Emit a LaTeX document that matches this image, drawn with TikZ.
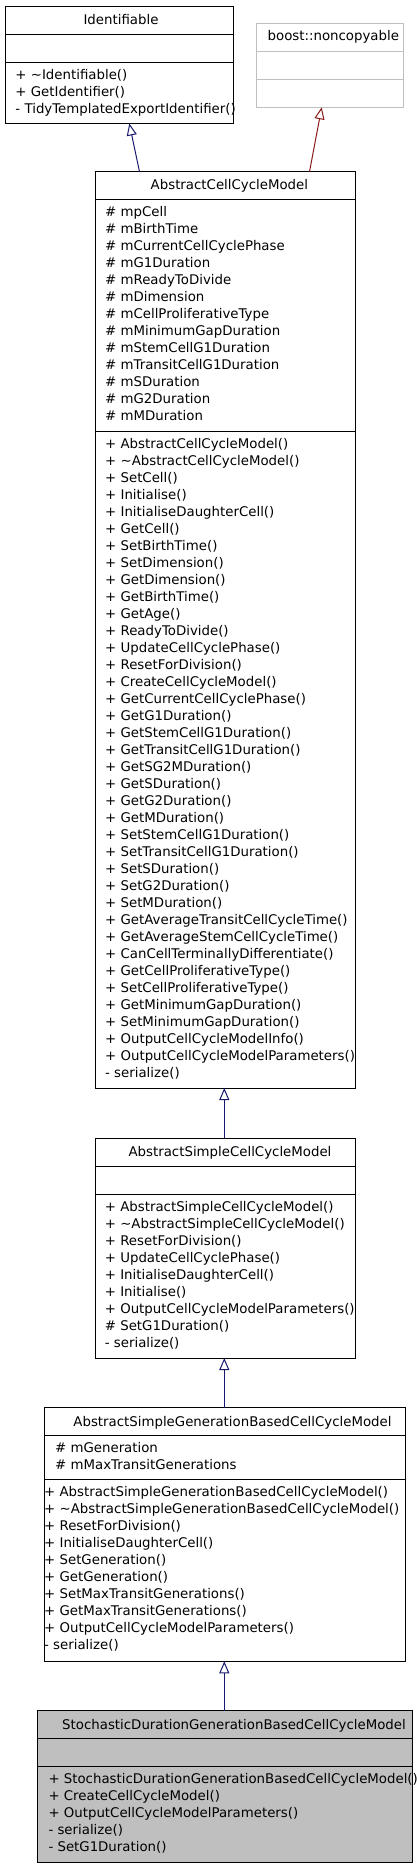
\documentclass[tikz,border=0pt]{standalone}
\usepackage{fontspec}
\setmainfont{DejaVu Sans}
\usetikzlibrary{arrows.meta}
\definecolor{pubblue}{HTML}{191970}
\definecolor{privred}{HTML}{8B1A1A}
\definecolor{greyc}{HTML}{BFBFBF}
\tikzset{
  cls/.style={draw=black, line width=1pt, rectangle, inner sep=0pt, outer sep=0pt, anchor=north west},
  txt/.style={inner sep=0pt, anchor=base west, font=\fontsize{13.33}{17}\selectfont},
  ttl/.style={inner sep=0pt, anchor=base, font=\fontsize{13.33}{17}\selectfont},
  sepline/.style={line width=1pt},
  inhpub/.style={draw=pubblue, line width=1pt, -{Triangle[open,length=12pt,width=10pt]}},
  inhpriv/.style={draw=privred, line width=1pt, -{Triangle[open,length=12pt,width=10pt]}}
}
\begin{document}
\begin{tikzpicture}[x=1pt,y=-1pt]
\useasboundingbox (0,0) rectangle (416,1867);

% Identifiable
\node[cls, minimum width=228pt, minimum height=117.2pt] (ident) at (5.3,6.3) {};
\node[ttl] (identt) at (121,24.3) {Identifiable};
\draw[sepline] (ident.west |- 0,34.3) -- (ident.east |- 0,34.3);
\draw[sepline] (ident.west |- 0,62.3) -- (ident.east |- 0,62.3);
\foreach \t [count=\i from 0] in {+ \textasciitilde Identifiable(), + GetIdentifier(), - TidyTemplatedExportIdentifier()}
  \node[txt] (identm\i) at (15.3,{79.3+17*\i}) {\t};

% boost::noncopyable
\node[cls, draw=greyc, minimum width=147pt, minimum height=84pt] (boost) at (256.3,23.3) {};
\node[ttl] (boostt) at (333.3,41) {boost::noncopyable};
\draw[sepline, greyc] (boost.west |- 0,51.3) -- (boost.east |- 0,51.3);
\draw[sepline, greyc] (boost.west |- 0,79.3) -- (boost.east |- 0,79.3);

% AbstractCellCycleModel
\node[cls, minimum width=259.7pt, minimum height=916.3pt] (acc) at (95.3,171.7) {};
\node[ttl] (acct) at (229.4,189.5) {AbstractCellCycleModel};
\draw[sepline] (acc.west |- 0,199.3) -- (acc.east |- 0,199.3);
\draw[sepline] (acc.west |- 0,431.7) -- (acc.east |- 0,431.7);
\foreach \t [count=\i from 0] in {\# mpCell, \# mBirthTime, \# mCurrentCellCyclePhase, \# mG1Duration, \# mReadyToDivide, \# mDimension, \# mCellProliferativeType, \# mMinimumGapDuration, \# mStemCellG1Duration, \# mTransitCellG1Duration, \# mSDuration, \# mG2Duration, \# mMDuration}
  \node[txt] (acca\i) at (105,{216.3+17*\i}) {\t};
\foreach \t [count=\i from 0] in {+ AbstractCellCycleModel(), + \textasciitilde AbstractCellCycleModel(), + SetCell(), + Initialise(), + InitialiseDaughterCell(), + GetCell(), + SetBirthTime(), + SetDimension(), + GetDimension(), + GetBirthTime(), + GetAge(), + ReadyToDivide(), + UpdateCellCyclePhase(), + ResetForDivision(), + CreateCellCycleModel(), + GetCurrentCellCyclePhase(), + GetG1Duration(), + GetStemCellG1Duration(), + GetTransitCellG1Duration(), + GetSG2MDuration(), + GetSDuration(), + GetG2Duration(), + GetMDuration(), + SetStemCellG1Duration(), + SetTransitCellG1Duration(), + SetSDuration(), + SetG2Duration(), + SetMDuration(), + GetAverageTransitCellCycleTime(), + GetAverageStemCellCycleTime(), + CanCellTerminallyDifferentiate(), + GetCellProliferativeType(), + SetCellProliferativeType(), + GetMinimumGapDuration(), + SetMinimumGapDuration(), + OutputCellCycleModelInfo(), + OutputCellCycleModelParameters(), - serialize()}
  \node[txt] (accm\i) at (105,{448.7+17*\i}) {\t};

% AbstractSimpleCellCycleModel
\node[cls, minimum width=260pt, minimum height=220pt] (ascc) at (95.7,1138) {};
\node[ttl] (ascct) at (230,1156) {AbstractSimpleCellCycleModel};
\draw[sepline] (ascc.west |- 0,1166) -- (ascc.east |- 0,1166);
\draw[sepline] (ascc.west |- 0,1194) -- (ascc.east |- 0,1194);
\foreach \t [count=\i from 0] in {+ AbstractSimpleCellCycleModel(), + \textasciitilde AbstractSimpleCellCycleModel(), + ResetForDivision(), + UpdateCellCyclePhase(), + InitialiseDaughterCell(), + Initialise(), + OutputCellCycleModelParameters(), \# SetG1Duration(), - serialize()}
  \node[txt] (asccm\i) at (104.7,{1211+17*\i}) {\t};

% AbstractSimpleGenerationBasedCellCycleModel
\node[cls, minimum width=361.4pt, minimum height=253.6pt] (asgb) at (44.3,1407.7) {};
\node[ttl] (asgbt) at (232.5,1426) {AbstractSimpleGenerationBasedCellCycleModel};
\draw[sepline] (asgb.west |- 0,1435.7) -- (asgb.east |- 0,1435.7);
\draw[sepline] (asgb.west |- 0,1479.5) -- (asgb.east |- 0,1479.5);
\foreach \t [count=\i from 0] in {\# mGeneration, \# mMaxTransitGenerations}
  \node[txt] (asgba\i) at (55,{1452.7+17*\i}) {\t};
\foreach \t [count=\i from 0] in {+ AbstractSimpleGenerationBasedCellCycleModel(), + \textasciitilde AbstractSimpleGenerationBasedCellCycleModel(), + ResetForDivision(), + InitialiseDaughterCell(), + SetGeneration(), + GetGeneration(), + SetMaxTransitGenerations(), + GetMaxTransitGenerations(), + OutputCellCycleModelParameters(), - serialize()}
  \node[txt] (asgbm\i) at (44,{1496.5+17*\i}) {\t};

% StochasticDurationGenerationBasedCellCycleModel
\node[cls, fill=greyc, minimum width=375pt, minimum height=151.6pt] (stoch) at (37.3,1710.7) {};
\node[ttl] (stocht) at (234,1729) {StochasticDurationGenerationBasedCellCycleModel};
\draw[sepline] (stoch.west |- 0,1738.3) -- (stoch.east |- 0,1738.3);
\draw[sepline] (stoch.west |- 0,1766.3) -- (stoch.east |- 0,1766.3);
\foreach \t [count=\i from 0] in {+ StochasticDurationGenerationBasedCellCycleModel(), + CreateCellCycleModel(), + OutputCellCycleModelParameters(), - serialize(), - SetG1Duration()}
  \node[txt] (stochm\i) at (48.3,{1783.3+17*\i}) {\t};

% inheritance arrows
\coordinate (ax) at (224.3,0);
\draw[inhpub] ([xshift=44.2pt]acc.north west) -- ([xshift=124pt]ident.south west);
\draw[inhpriv] ([xshift=214.2pt]acc.north west) -- ([xshift=65.4pt]boost.south west);
\draw[inhpub] (ascc.north -| ax) -- (acc.south -| ax);
\draw[inhpub] (asgb.north -| ax) -- (ascc.south -| ax);
\draw[inhpub] (stoch.north -| ax) -- (asgb.south -| ax);
\end{tikzpicture}
\end{document}
